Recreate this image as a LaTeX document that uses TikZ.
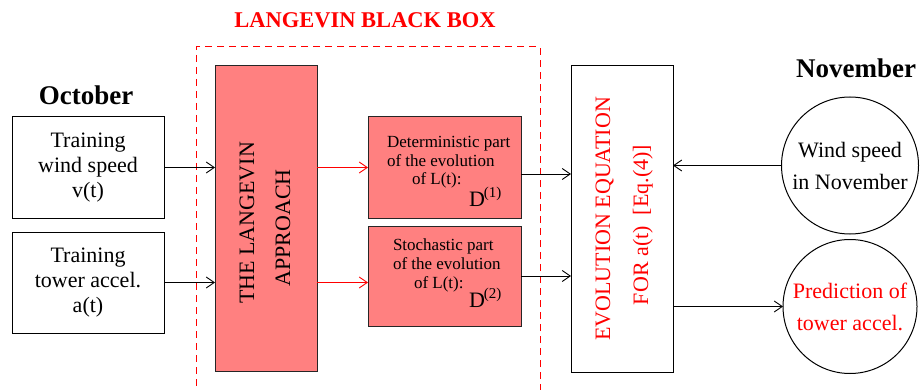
\documentclass[tikz,border=0pt]{standalone}
\usepackage{fontspec}
\setmainfont{Liberation Serif}
\usetikzlibrary{arrows.meta}
\definecolor{salmon}{RGB}{255,128,128}
\begin{document}
\begin{tikzpicture}[x=1pt,y=-1pt,
  every node/.style={inner sep=0pt,outer sep=0pt},
  txt/.style={font=\fontsize{22}{25}\selectfont, align=center},
  ctxt/.style={font=\fontsize{22}{32}\selectfont, align=center},
  rtxt/.style={font=\fontsize{22}{25}\selectfont, rotate=90, anchor=base},
  small/.style={font=\fontsize{17}{18.5}\selectfont, anchor=base west},
  dlab/.style={font=\fontsize{22}{22}\selectfont, anchor=base west},
  hdr/.style={font=\fontsize{27}{30}\selectfont\bfseries, anchor=base},
  whitebox/.style={draw=black, line width=1pt, fill=white},
  pinkbox/.style={draw=black!85, line width=1pt, fill=salmon},
  roundbox/.style={draw=black, line width=1pt, circle},
  arr/.style={line width=0.9pt, -{Straight Barb[length=8pt,width=11pt]}},
]
\path[use as bounding box] (0,0) rectangle (920,390);
\clip (0,0) rectangle (920,390);

% black box frame and title
\node[draw=red, dash pattern=on 7pt off 5pt, line width=1pt,
      minimum width=344, minimum height=360] (bb) at (368,227) {};
\node[font=\fontsize{22.5}{25}\selectfont\bfseries, text=red, anchor=base] (bbtitle) at (365,28) {LANGEVIN BLACK BOX};

% headers
\node[hdr] (oct) at (86,105) {October};
\node[hdr] (nov) at (856,78) {November};

% training boxes
\node[whitebox, txt, minimum width=152, minimum height=101] (tw) at (88,167.5) {Training\\wind speed\\v(t)};
\node[whitebox, txt, minimum width=152, minimum height=101] (ta) at (88,282.5) {Training\\tower accel.\\a(t)};

% Langevin approach
\node[pinkbox, minimum width=102, minimum height=305] (lang) at (266,218.5) {};
\node[rtxt] (langA) at (254,223) {THE LANGEVIN};
\node[rtxt] (langB) at (290,228) {APPROACH};

% deterministic / stochastic
\node[pinkbox, minimum width=153, minimum height=101] (det) at (444.5,167.5) {};
\node[small] (det1) at (387,148) {Deterministic part};
\node[small] (det2) at (387,167) {of the evolution};
\node[small] (det3) at (412,185) {of L(t):};
\node[dlab] (det4) at (469,206) {D\kern-1pt\raisebox{9pt}{\fontsize{15}{15}\selectfont(1)}};

\node[pinkbox, minimum width=153, minimum height=100] (stoch) at (444.5,276) {};
\node[small] (st1) at (393,250) {Stochastic part};
\node[small] (st2) at (393,269) {of the evolution};
\node[small] (st3) at (414,288) {of L(t):};
\node[dlab] (st4) at (469,307) {D\kern-1pt\raisebox{9pt}{\fontsize{15}{15}\selectfont(2)}};

% evolution equation
\node[whitebox, minimum width=102, minimum height=306] (evo) at (622,219) {};
\node[rtxt, text=red] (evoA) at (610,219) {EVOLUTION EQUATION};
\node[rtxt, text=red] (evoB) at (648,225) {FOR a(t)\ \ [Eq.(4)]};

% circles
\node[roundbox, ctxt, minimum size=137] (c1) at (850,165.5) {Wind speed\\in November};
\node[roundbox, ctxt, text=red, minimum size=134] (c2) at (850,306.5) {Prediction of\\tower accel.};

% connectors
\draw[arr] (tw.east) -- (lang.west |- tw.east);
\draw[arr] (ta.east) -- (lang.west |- ta.east);
\draw[arr, red] (lang.east |- det.west) -- (det.west);
\draw[arr, red] (lang.east |- ta.east) -- (stoch.west |- ta.east);
\coordinate (dout) at ([yshift=-6.5pt]det.east);
\draw[arr] (dout) -- (evo.west |- dout);
\draw[arr] (stoch.east) -- (evo.west |- stoch.east);
\draw[arr] (c1.west) -- (evo.east |- c1.west);
\draw[arr] (evo.east |- c2.west) -- (c2.west);
\end{tikzpicture}
\end{document}
